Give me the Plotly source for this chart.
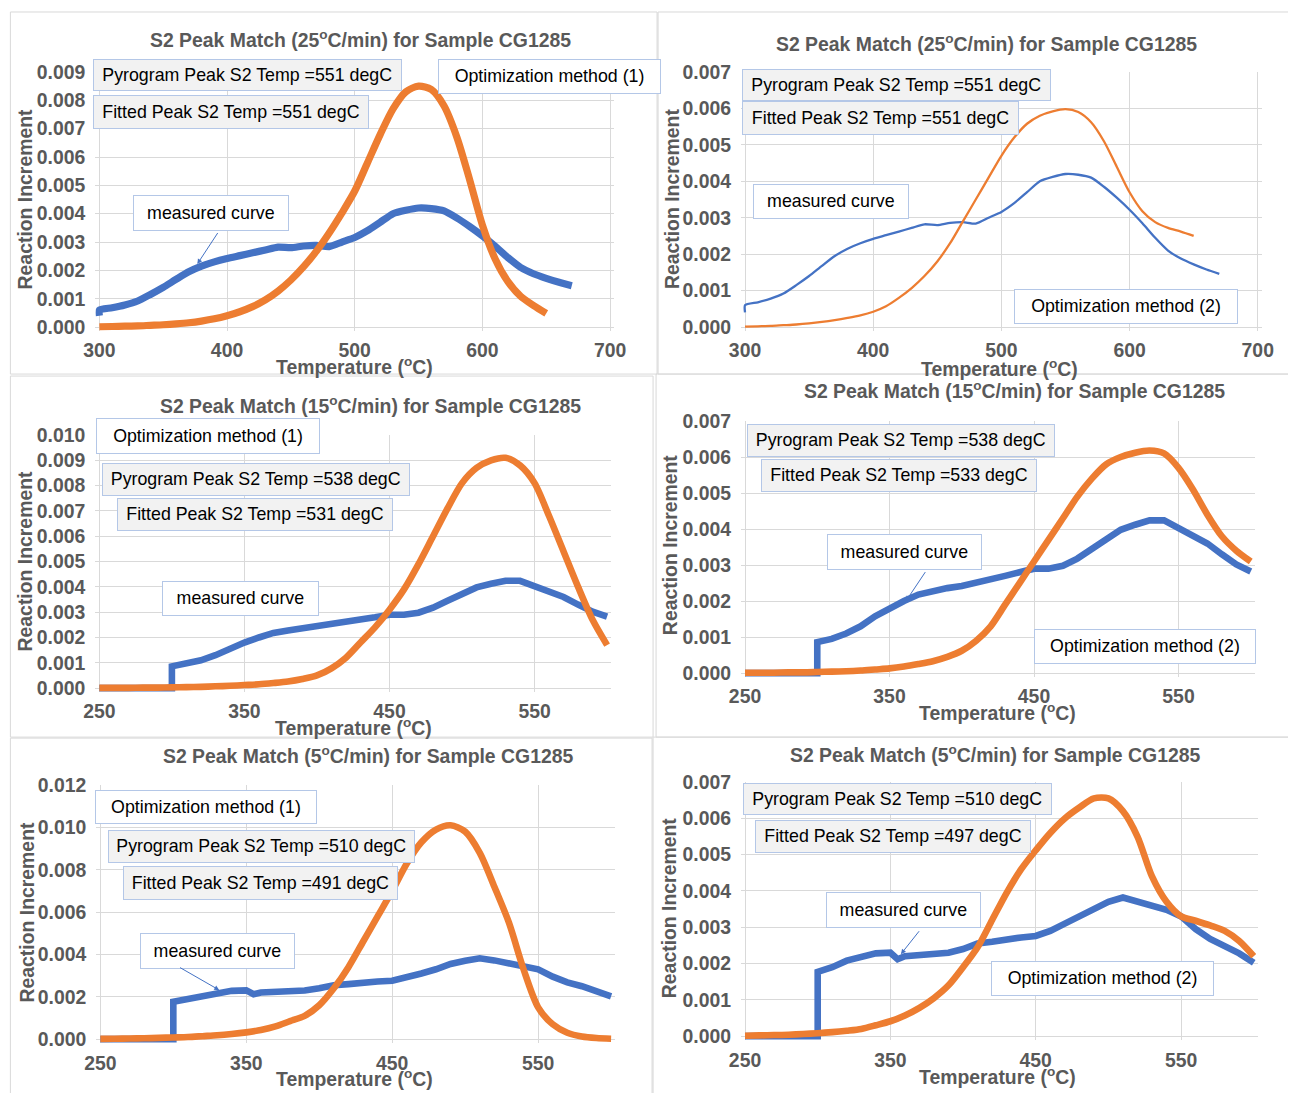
import plotly.graph_objects as go

W, H = 1296, 1093
# the photographed page comes out slightly shrunk and shifted; positions below are given
# in picture pixels and mapped back to figure pixels with this measured correction
AX, SX = 19.6, 0.982
AY, SY = 18.0, 0.9834

# ---- data (temperature in degC, reaction increment) ----
temp_25_measured = [300, 300, 310, 320, 330, 340, 350, 360, 370, 380, 390, 400, 410, 420, 430,
                    440, 450, 460, 470, 480, 490, 500, 510, 520, 530, 540, 550, 560, 570, 580,
                    590, 600, 610, 620, 630, 640, 650, 660, 670]
measured_25 = [0.00040, 0.00060, 0.00068, 0.00078, 0.00092, 0.00115, 0.00140, 0.00168, 0.00195,
               0.00215, 0.00230, 0.00242, 0.00252, 0.00262, 0.00272, 0.00282, 0.00280, 0.00286,
               0.00288, 0.00284, 0.00300, 0.00316, 0.00340, 0.00370, 0.00400, 0.00412, 0.00420,
               0.00418, 0.00410, 0.00385, 0.00355, 0.00322, 0.00285, 0.00245, 0.00210, 0.00188,
               0.00172, 0.00158, 0.00146]

temp_25_fit = [300, 310, 320, 330, 340, 350, 360, 370, 380, 390, 400, 410, 420, 430, 440, 450,
               460, 470, 480, 490, 500, 510, 520, 530, 540, 550, 560, 570, 580, 590, 600, 610,
               620, 630, 640, 650]
fit_25_method1 = [0.00001, 0.00002, 0.00003, 0.00004, 0.00006, 0.00008, 0.00011, 0.00015, 0.00021,
                  0.00029, 0.00040, 0.00054, 0.00072, 0.00096, 0.00127, 0.00166, 0.00213, 0.00268,
                  0.00332, 0.00403, 0.00480, 0.00580, 0.00680, 0.00770, 0.00830, 0.00850, 0.00838,
                  0.00780, 0.00670, 0.00520, 0.00360, 0.00240, 0.00160, 0.00108, 0.00076, 0.00048]
fit_25_method2 = [0.00001, 0.00002, 0.00003, 0.00005, 0.00007, 0.00010, 0.00014, 0.00019, 0.00025,
                  0.00032, 0.00042, 0.00057, 0.00080, 0.00107, 0.00140, 0.00180, 0.00230, 0.00290,
                  0.00350, 0.00410, 0.00470, 0.00520, 0.00558, 0.00580, 0.00592, 0.00598, 0.00590,
                  0.00562, 0.00510, 0.00440, 0.00370, 0.00318, 0.00288, 0.00272, 0.00262, 0.00250]

temp_15_measured = [250, 260, 270, 280, 290, 300, 300, 310, 320, 330, 340, 350, 360, 370, 380,
                    390, 400, 410, 420, 430, 440, 450, 460, 470, 480, 490, 500, 510, 520, 530,
                    540, 550, 560, 570, 580, 590, 600]
measured_15 = [0, 0, 0, 0, 0, 0, 0.00086, 0.00095, 0.00110, 0.00130, 0.00158, 0.00180, 0.00200,
               0.00218, 0.00228, 0.00236, 0.00242, 0.00250, 0.00260, 0.00270, 0.00280, 0.00290,
               0.00290, 0.00298, 0.00318, 0.00345, 0.00372, 0.00398, 0.00412, 0.00424, 0.00424,
               0.00402, 0.00382, 0.00360, 0.00330, 0.00302, 0.00282]

temp_low_fit = [250, 260, 270, 280, 290, 300, 310, 320, 330, 340, 350, 360, 370, 380, 390, 400,
                410, 420, 430, 440, 450, 460, 470, 480, 490, 500, 510, 520, 530, 540, 550, 560,
                570, 580, 590, 600]
fit_15_method1 = [0.00001, 0.00001, 0.00001, 0.00002, 0.00002, 0.00003, 0.00004, 0.00005, 0.00007,
                  0.00009, 0.00012, 0.00015, 0.00020, 0.00026, 0.00036, 0.00050, 0.00078, 0.00120,
                  0.00180, 0.00240, 0.00310, 0.00390, 0.00490, 0.00600, 0.00710, 0.00810, 0.00870,
                  0.00900, 0.00910, 0.00880, 0.00810, 0.00680, 0.00540, 0.00400, 0.00270, 0.00170]
fit_15_method2 = [0.00001, 0.00001, 0.00001, 0.00002, 0.00002, 0.00003, 0.00004, 0.00005, 0.00007,
                  0.00010, 0.00013, 0.00018, 0.00025, 0.00033, 0.00045, 0.00062, 0.00090, 0.00130,
                  0.00190, 0.00250, 0.00310, 0.00370, 0.00430, 0.00490, 0.00540, 0.00580, 0.00600,
                  0.00612, 0.00618, 0.00610, 0.00570, 0.00510, 0.00440, 0.00380, 0.00340, 0.00310]

temp_5_measured = [250, 260, 270, 280, 290, 300, 300, 310, 320, 330, 340, 350, 355, 360, 370,
                   380, 390, 400, 410, 420, 430, 440, 450, 460, 470, 480, 490, 500, 510, 520,
                   530, 540, 550, 560, 570, 580, 590, 600]
measured_5 = [0, 0, 0, 0, 0, 0, 0.00177, 0.00190, 0.00208, 0.00220, 0.00228, 0.00230, 0.00212,
              0.00220, 0.00222, 0.00228, 0.00230, 0.00240, 0.00255, 0.00260, 0.00268, 0.00272,
              0.00276, 0.00290, 0.00310, 0.00330, 0.00355, 0.00370, 0.00382, 0.00372, 0.00360,
              0.00348, 0.00330, 0.00295, 0.00268, 0.00250, 0.00228, 0.00202]

fit_5_method1 = [0.00001, 0.00002, 0.00003, 0.00004, 0.00006, 0.00008, 0.00010, 0.00014, 0.00018,
                 0.00024, 0.00032, 0.00043, 0.00060, 0.00085, 0.00110, 0.00160, 0.00240, 0.00340,
                 0.00460, 0.00580, 0.00700, 0.00830, 0.00930, 0.00990, 0.01010, 0.00980, 0.00880,
                 0.00720, 0.00550, 0.00330, 0.00150, 0.00070, 0.00030, 0.00012, 0.00005, 0.00002]
fit_5_method2 = [0.00001, 0.00002, 0.00003, 0.00004, 0.00006, 0.00008, 0.00011, 0.00015, 0.00020,
                 0.00030, 0.00041, 0.00057, 0.00078, 0.00105, 0.00140, 0.00190, 0.00245, 0.00320,
                 0.00395, 0.00460, 0.00512, 0.00560, 0.00600, 0.00630, 0.00655, 0.00655, 0.00620,
                 0.00550, 0.00440, 0.00370, 0.00330, 0.00318, 0.00305, 0.00290, 0.00262, 0.00220]

x_ticks_25 = [300, 400, 500, 600, 700]
x_ticks_low = [250, 350, 450, 550]
y_ticks_007 = [0.000, 0.001, 0.002, 0.003, 0.004, 0.005, 0.006, 0.007]
y_ticks_009 = [0.000, 0.001, 0.002, 0.003, 0.004, 0.005, 0.006, 0.007, 0.008, 0.009]
y_ticks_010 = [0.000, 0.001, 0.002, 0.003, 0.004, 0.005, 0.006, 0.007, 0.008, 0.009, 0.010]
y_ticks_012 = [0.000, 0.002, 0.004, 0.006, 0.008, 0.010, 0.012]

# ---- styling ----
BLUE = "#4472C4"
ORANGE = "#ED7D31"
TXT = "#595959"
GRID = "#d9d9d9"
EDGE = "#b4c7e7"
GRAYBOX = "#f2f2f2"
FONT = "Liberation Sans, Arial, sans-serif"
PAD = 4  # px of room so thick lines are not cut at the plot edge


def title(rate):
    return f"S2 Peak Match ({rate}<sup>o</sup>C/min) for Sample CG1285"


def pyro(t):
    return f"Pyrogram Peak S2 Temp ={t} degC"


def fitted(t):
    return f"Fitted Peak S2 Temp ={t} degC"


# pixel positions below are in the 1296x1093 picture
panels = [
    dict(title=title(25), meas=(temp_25_measured, measured_25), fit=(temp_25_fit, fit_25_method1),
         xt=x_ticks_25, yt=y_ticks_009, lw=7.2, smooth=True, plot=(99, 71, 610, 326),
         frame=(10, 11, 657, 373), tpos=(360, 38), xpos=(354, 365), ypos=(25, 198),
         boxes=[(pyro(551), (93, 58, 396, 89), GRAYBOX), (fitted(551), (93, 94, 364, 127), GRAYBOX),
                ("Optimization method (1)", (438, 58, 657, 92), "white"),
                ("measured curve", (133, 194, 286, 229), "white")],
         arrow=((218, 231), (197, 263))),
    dict(title=title(25), meas=(temp_25_measured, measured_25), fit=(temp_25_fit, fit_25_method2),
         xt=x_ticks_25, yt=y_ticks_007, lw=2.3, smooth=True, plot=(745, 71, 1258, 326),
         frame=(658, 11, 1300, 373), tpos=(987, 42), xpos=(1000, 367), ypos=(672, 198),
         boxes=[(pyro(551), (742, 68, 1045, 99), GRAYBOX), (fitted(551), (742, 100, 1014, 133), GRAYBOX),
                ("measured curve", (753, 183, 906, 217), "white"),
                ("Optimization method (2)", (1014, 288, 1234, 322), "white")],
         arrow=None),
    dict(title=title(15), meas=(temp_15_measured, measured_15), fit=(temp_low_fit, fit_15_method1),
         xt=x_ticks_low, yt=y_ticks_010, lw=6.6, smooth=False, plot=(99, 434, 607, 687),
         frame=(10, 375, 653, 736), tpos=(370, 404), xpos=(353, 726), ypos=(25, 560),
         boxes=[("Optimization method (1)", (96, 417, 316, 452), "white"),
                (pyro(538), (102, 462, 404, 494), GRAYBOX), (fitted(531), (117, 497, 388, 529), GRAYBOX),
                ("measured curve", (162, 580, 316, 614), "white")],
         arrow=None),
    dict(title=title(15), meas=(temp_15_measured, measured_15), fit=(temp_low_fit, fit_15_method2),
         xt=x_ticks_low, yt=y_ticks_007, lw=6.6, smooth=False, plot=(745, 420, 1251, 672),
         frame=(656, 373, 1300, 736), tpos=(1015, 389), xpos=(998, 711), ypos=(670, 544),
         boxes=[(pyro(538), (747, 423, 1049, 455), GRAYBOX), (fitted(533), (761, 458, 1032, 490), GRAYBOX),
                ("measured curve", (827, 533, 979, 568), "white"),
                ("Optimization method (2)", (1034, 628, 1252, 662), "white")],
         arrow=((926, 570), (906, 600))),
    dict(title=title(5), meas=(temp_5_measured, measured_5), fit=(temp_low_fit, fit_5_method1),
         xt=x_ticks_low, yt=y_ticks_012, lw=6.6, smooth=False, plot=(100, 784, 611, 1038),
         frame=(10, 737, 652, 1100), tpos=(368, 754), xpos=(354, 1077), ypos=(27, 911),
         boxes=[("Optimization method (1)", (95, 789, 313, 822), "white"),
                (pyro(510), (108, 829, 409, 861), GRAYBOX), (fitted(491), (123, 865, 393, 898), GRAYBOX),
                ("measured curve", (140, 932, 292, 967), "white")],
         arrow=((179, 966), (219, 989))),
    dict(title=title(5), meas=(temp_5_measured, measured_5), fit=(temp_low_fit, fit_5_method2),
         xt=x_ticks_low, yt=y_ticks_007, lw=6.6, smooth=False, plot=(745, 781, 1254, 1035),
         frame=(653, 736, 1300, 1100), tpos=(995, 753), xpos=(998, 1075), ypos=(669, 907),
         boxes=[(pyro(510), (743, 782, 1046, 813), GRAYBOX), (fitted(497), (755, 819, 1026, 851), GRAYBOX),
                ("measured curve", (826, 891, 978, 926), "white"),
                ("Optimization method (2)", (991, 960, 1210, 994), "white")],
         arrow=((920, 929), (901, 953))),
]


def px(x):
    return (x - AX) / SX / W


def py(y):
    return 1 - (y - AY) / SY / H


fig = go.Figure()
annotations = []
shapes = []
layout = {}
bold = dict(family=FONT, size=19.4, color=TXT, weight="bold")

for i, p in enumerate(panels):
    s = "" if i == 0 else str(i + 1)
    l, t, r, b = p["plot"]
    x0, x1 = p["xt"][0], (700 if p["xt"][0] == 300 else 600)
    y1 = p["yt"][-1]
    kx = (x1 - x0) / (r - l)
    ky = y1 / (b - t)

    blue_line = dict(color=BLUE, width=p["lw"])
    if p["smooth"]:
        blue_line.update(shape="spline", smoothing=0.6)
    fig.add_trace(go.Scatter(x=p["meas"][0], y=p["meas"][1], mode="lines", line=blue_line,
                             xaxis="x" + s, yaxis="y" + s, showlegend=False, hoverinfo="skip"))
    fig.add_trace(go.Scatter(x=p["fit"][0], y=p["fit"][1], mode="lines",
                             line=dict(color=ORANGE, width=p["lw"], shape="spline", smoothing=0.8),
                             xaxis="x" + s, yaxis="y" + s, showlegend=False, hoverinfo="skip"))

    layout["xaxis" + s] = dict(
        domain=[px(l - PAD), px(r + PAD)], range=[x0 - PAD * kx, x1 + PAD * kx],
        anchor="y" + s, tickvals=p["xt"], showgrid=True, gridcolor=GRID, gridwidth=1,
        zeroline=False, showline=False, ticks="", tickfont=bold, ticklabelstandoff=6,
        fixedrange=True)
    layout["yaxis" + s] = dict(
        domain=[py(b + PAD), py(t)], range=[-PAD * ky, y1],
        anchor="x" + s, tickvals=p["yt"], tickformat=".3f", showgrid=True, gridcolor=GRID,
        gridwidth=1, zeroline=False, showline=False, ticks="", tickfont=bold,
        ticklabelstandoff=9, fixedrange=True)

    fl, ft, fr, fb = p["frame"]
    shapes.append(dict(type="rect", xref="paper", yref="paper", x0=px(fl), x1=px(fr),
                       y0=py(fb), y1=py(ft), line=dict(color=GRID, width=1), layer="below"))

    annotations.append(dict(text=p["title"], x=px(p["tpos"][0]), y=py(p["tpos"][1]),
                            xref="paper", yref="paper", xanchor="center", yanchor="middle",
                            showarrow=False, font=bold))
    annotations.append(dict(text="Temperature (<sup>o</sup>C)", x=px(p["xpos"][0]), y=py(p["xpos"][1]),
                            xref="paper", yref="paper", xanchor="center", yanchor="middle",
                            showarrow=False, font=bold))
    annotations.append(dict(text="Reaction Increment", x=px(p["ypos"][0]), y=py(p["ypos"][1]),
                            xref="paper", yref="paper", xanchor="center", yanchor="middle",
                            textangle=-90, showarrow=False, font=bold))

    for text, (bl, bt, br, bb), fill in p["boxes"]:
        annotations.append(dict(text=text, x=px(bl), y=py(bt), xref="paper", yref="paper",
                                xanchor="left", yanchor="top", showarrow=False,
                                width=(br - bl) / SX - 2, height=(bb - bt) / SY - 2,
                                align="center", valign="middle",
                                bgcolor=fill, bordercolor=EDGE, borderwidth=1, borderpad=0,
                                font=dict(family=FONT, size=17.8, color="#000000")))

    if p["arrow"]:
        (tx, ty), (hx, hy) = p["arrow"]
        annotations.append(dict(text="", x=px(hx), y=py(hy), xref="paper", yref="paper",
                                ax=(tx - hx) / SX, ay=(ty - hy) / SY, showarrow=True, arrowhead=2,
                                arrowsize=1, arrowwidth=1, arrowcolor=BLUE))

fig.update_layout(
    width=W, height=H, autosize=False,
    margin=dict(l=0, r=0, t=0, b=0),
    paper_bgcolor="white", plot_bgcolor="white",
    annotations=annotations, shapes=shapes,
    **layout,
)

fig.write_html("out.html")
